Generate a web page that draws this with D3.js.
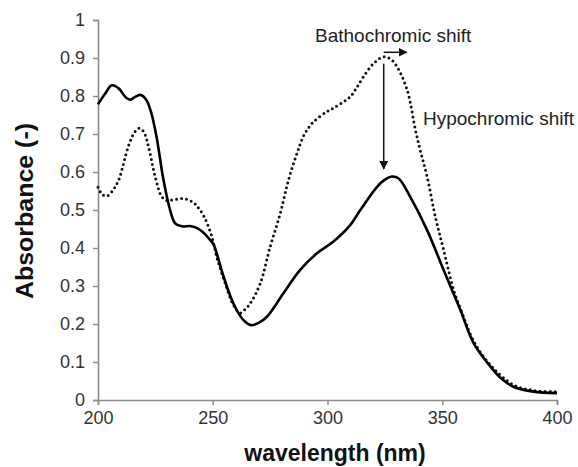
<!DOCTYPE html>
<meta charset="utf-8">
<style>
  body { margin: 0; background: #fff; }
  text { font-family: "Liberation Sans", Arial, sans-serif; }
</style>

<!-- Load d3.js -->
<script src="https://d3js.org/d3.v7.min.js"></script>

<div id="my_dataviz"></div>

<script>

// spectrum before (dotted) and after (solid)
var wlDotted = [200, 202, 204, 206, 209, 213.2, 216, 218, 220, 222, 224.9, 227.8, 230, 232, 236.5, 240, 242.3, 246, 249.6, 252, 255, 259, 262, 264, 266.3, 270.7, 275, 279.4, 283, 286.7, 290, 293.9, 299.8, 302.6, 307, 309.9, 312.5, 315.7, 320.1, 324.5, 327.5, 330.3, 334.7, 338.3, 340.5, 343.4, 347, 350.6, 355, 358, 363.7, 371, 381, 390, 400];
var absDotted = [0.56, 0.54, 0.537, 0.548, 0.579, 0.667, 0.705, 0.715, 0.705, 0.667, 0.588, 0.535, 0.525, 0.526, 0.53, 0.525, 0.516, 0.485, 0.43, 0.37, 0.315, 0.25, 0.229, 0.238, 0.254, 0.307, 0.403, 0.491, 0.579, 0.649, 0.7, 0.732, 0.759, 0.768, 0.785, 0.798, 0.82, 0.851, 0.886, 0.903, 0.897, 0.877, 0.816, 0.711, 0.655, 0.588, 0.482, 0.395, 0.289, 0.24, 0.155, 0.092, 0.04, 0.025, 0.022];

var wlSolid = [200, 203, 206, 209, 212, 214, 216, 218.5, 221, 223, 225.5, 228.5, 231.4, 233.6, 236.5, 240, 243, 246, 249, 250.3, 254.7, 259, 263.4, 266.6, 270, 273.6, 280.8, 288, 295.4, 302.6, 309.9, 314.3, 321.6, 325, 328, 331, 336, 343.4, 350.6, 357.9, 363.7, 371, 376, 381, 389.7, 400];
var absSolid = [0.778, 0.805, 0.828, 0.82, 0.797, 0.79, 0.797, 0.803, 0.79, 0.76, 0.693, 0.58, 0.5, 0.465, 0.457, 0.458, 0.453, 0.44, 0.42, 0.41, 0.325, 0.254, 0.21, 0.197, 0.203, 0.219, 0.281, 0.342, 0.386, 0.417, 0.46, 0.5, 0.561, 0.58, 0.588, 0.583, 0.535, 0.447, 0.342, 0.237, 0.149, 0.088, 0.055, 0.035, 0.022, 0.018];

var xTicks = [200, 250, 300, 350, 400];
var yTicks = [0, 0.1, 0.2, 0.3, 0.4, 0.5, 0.6, 0.7, 0.8, 0.9, 1];

// annotation arrows: [wavelength, absorbance] start and end
var shiftRight = [[324.5, 0.915], [334.5, 0.915]];
var shiftDown = [[324.5, 0.885], [324.5, 0.608]];

var W = 578, H = 467;
var margin = {top: 20, right: 21, bottom: 67, left: 98},
    width = W - margin.left - margin.right,
    height = H - margin.top - margin.bottom;

var x = d3.scaleLinear()
  .domain([200, 400])
  .range([0, width]);

var y = d3.scaleLinear()
  .domain([0, 1])
  .range([height, 0]);

var svg = d3.select("#my_dataviz").append("svg")
    .attr("width", W)
    .attr("height", H)
  .append("g")
    .attr("transform", "translate(" + margin.left + "," + margin.top + ")");

svg.append("defs").append("marker")
    .attr("id", "head")
    .attr("viewBox", "0 0 10 10")
    .attr("refX", 9)
    .attr("refY", 5)
    .attr("markerWidth", 6)
    .attr("markerHeight", 6)
    .attr("orient", "auto")
  .append("path")
    .attr("d", "M0,0 L10,5 L0,10 z")
    .attr("fill", "#111");

// X AXIS
var xa = svg.append("g")
  .attr("transform", "translate(0," + height + ")")
  .call(d3.axisBottom(x).tickValues(xTicks).tickSize(5).tickPadding(6).tickFormat(d3.format("d")));
xa.select(".domain").attr("stroke", "#8a8a8a").attr("stroke-width", 1.6);
xa.selectAll(".tick line").attr("stroke", "#8a8a8a").attr("stroke-width", 1.4);
xa.selectAll(".tick text")
  .attr("fill", "#333")
  .style("font-size", "18px");

// Y AXIS
var ya = svg.append("g")
  .call(d3.axisLeft(y).tickValues(yTicks).tickSize(5).tickPadding(8).tickFormat(function(d) { return d3.format("")(+d.toFixed(1)); }));
ya.select(".domain").attr("stroke", "#8a8a8a").attr("stroke-width", 1.6);
ya.selectAll(".tick line").attr("stroke", "#8a8a8a").attr("stroke-width", 1.4);
ya.selectAll(".tick text")
  .attr("fill", "#333")
  .style("font-size", "18px");

var line = d3.line()
  .x(function(d) { return x(d[0]); })
  .y(function(d) { return y(d[1]); })
  .curve(d3.curveCatmullRom.alpha(0.5));

var dotted = wlDotted.map(function(w, i) { return [w, absDotted[i]]; });
var solid = wlSolid.map(function(w, i) { return [w, absSolid[i]]; });

svg.append("path")
  .datum(dotted)
  .attr("d", line)
  .attr("fill", "none")
  .attr("stroke", "#111")
  .attr("stroke-width", 3)
  .attr("stroke-linecap", "round")
  .attr("stroke-dasharray", "0,5");

svg.append("path")
  .datum(solid)
  .attr("d", line)
  .attr("fill", "none")
  .attr("stroke", "#000")
  .attr("stroke-width", 2.6);

// ANNOTATIONS
[shiftRight, shiftDown].forEach(function(a) {
  svg.append("line")
    .attr("x1", x(a[0][0]))
    .attr("y1", y(a[0][1]))
    .attr("x2", x(a[1][0]))
    .attr("y2", y(a[1][1]))
    .attr("stroke", "#111")
    .attr("stroke-width", 1.5)
    .attr("marker-end", "url(#head)");
});

svg.append("text")
  .attr("x", 217)
  .attr("y", 22)
  .attr("font-size", "19px")
  .attr("fill", "#222")
  .text("Bathochromic shift");

svg.append("text")
  .attr("x", 325)
  .attr("y", 105)
  .attr("font-size", "19px")
  .attr("fill", "#222")
  .text("Hypochromic shift");

// AXIS TITLES
svg.append("text")
  .attr("x", 237)
  .attr("y", height + 61)
  .attr("font-size", "23px")
  .attr("font-weight", "bold")
  .attr("fill", "#111")
  .style("text-anchor", "middle")
  .text("wavelength (nm)");

svg.append("text")
  .attr("transform", "translate(" + (-65) + "," + 191 + ") rotate(-90)")
  .attr("font-size", "23px")
  .attr("font-weight", "bold")
  .attr("fill", "#111")
  .attr("textLength", 176)
  .attr("lengthAdjust", "spacingAndGlyphs")
  .style("text-anchor", "middle")
  .text("Absorbance (-)");

</script>
